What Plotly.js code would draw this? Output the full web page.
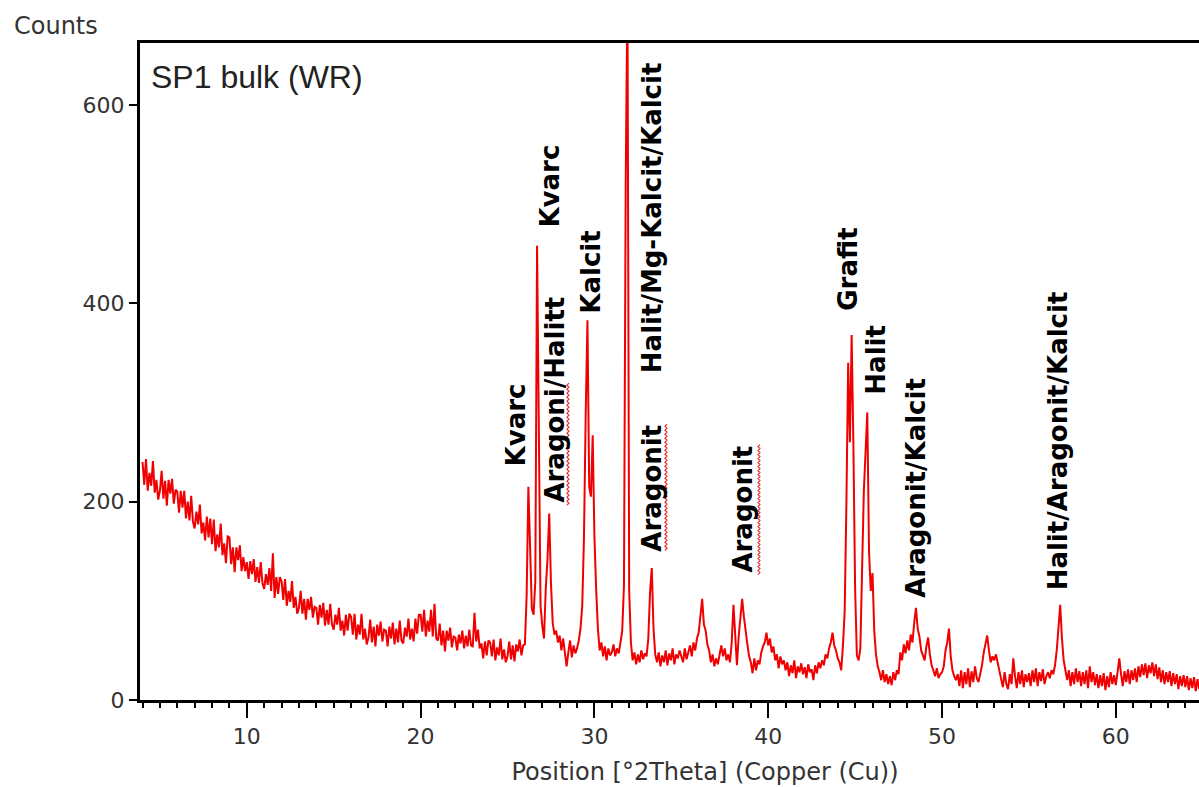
<!DOCTYPE html>
<html>
<head>
<meta charset="utf-8">
<script src="https://cdn.plot.ly/plotly-3.0.1.min.js"></script>
<style>
  html, body { margin: 0; padding: 0; overflow: hidden; background: #fff; }
</style>
</head>
<body>
<div id="plot-xrd"></div>
<script>
/* XRD pattern for SP1 bulk (WR), Cu radiation, with phase labels. */

// Scan runs 4.0 -> 65.0 °2Theta in 0.1° steps; counts.
const SCAN_START = 4.0;
const SCAN_STEP = 0.1;
const COUNTS = [
  240, 217, 243, 211, 229, 216, 241, 209, 222, 202,   // 4
  211, 231, 203, 221, 196, 222, 208, 223, 198, 212,   // 5
  210, 189, 211, 194, 211, 183, 200, 181, 206, 180,   // 6
  173, 190, 177, 197, 168, 179, 161, 185, 164, 183,   // 7
  157, 182, 150, 167, 154, 178, 146, 158, 138, 165,   // 8
  164, 137, 154, 129, 154, 141, 156, 130, 144, 130,   // 9
  139, 122, 140, 127, 142, 119, 134, 118, 139, 118,   // 10
  112, 127, 116, 133, 110, 148, 103, 124, 107, 124,   // 11
  120, 101, 122, 95, 110, 99, 120, 93, 104, 87,       // 12
  93, 110, 87, 102, 81, 102, 91, 104, 83, 94,         // 13
  93, 76, 96, 83, 98, 75, 91, 76, 97, 76,             // 14
  71, 86, 76, 93, 70, 80, 65, 86, 70, 87,             // 15
  84, 66, 87, 61, 76, 66, 87, 61, 72, 56,             // 16
  63, 81, 58, 74, 54, 76, 65, 79, 59, 71,             // 17
  70, 54, 74, 62, 78, 56, 72, 58, 80, 60,             // 18
  57, 73, 64, 82, 61, 72, 59, 82, 67, 86,             // 19
  86, 69, 91, 64, 80, 69, 91, 64, 97, 62,             // 20
  60, 77, 55, 70, 49, 70, 60, 73, 53, 64,             // 21
  63, 50, 66, 57, 70, 52, 65, 54, 71, 55,             // 22
  54, 88, 59, 71, 52, 57, 42, 59, 45, 60,             // 23
  58, 44, 61, 40, 53, 45, 62, 41, 51, 38,             // 24
  44, 59, 41, 55, 39, 56, 49, 61, 45, 55,             // 25
  56, 105, 215, 150, 92, 86, 120, 458, 255, 95,       // 26
  75, 62, 112, 142, 188, 118, 78, 66, 70, 58,         // 27
  65, 50, 62, 47, 34, 48, 60, 43, 55, 47,             // 28
  52, 60, 72, 95, 165, 290, 383, 215, 205, 267,       // 29
  165, 112, 72, 50, 58, 44, 54, 40, 52, 45,           // 30
  48, 56, 44, 52, 47, 58, 70, 115, 520, 720,          // 31
  110, 58, 40, 48, 36, 46, 38, 50, 41, 47,            // 32
  44, 62, 108, 133, 72, 46, 38, 48, 34, 45,           // 33
  38, 50, 35, 47, 40, 52, 36, 46, 42, 50,             // 34
  45, 38, 52, 41, 48, 55, 44, 58, 50, 62,             // 35
  68, 84, 102, 76, 70, 56, 50, 38, 46, 34,            // 36
  42, 36, 48, 55, 44, 52, 40, 46, 38, 58,             // 37
  96, 60, 35, 64, 88, 102, 84, 68, 56, 44,            // 38
  38, 27, 42, 30, 40, 36, 48, 54, 58, 68,             // 39
  55, 62, 48, 54, 40, 46, 32, 44, 36, 40,             // 40
  30, 38, 24, 35, 27, 40, 22, 34, 28, 37,             // 41
  26, 33, 22, 36, 28, 31, 20, 35, 27, 38,             // 42
  32, 40, 35, 46, 42, 52, 58, 68, 55, 50,             // 43
  42, 38, 30, 55, 90, 200, 340, 260, 368, 257,        // 44
  112, 45, 40, 52, 130, 210, 250, 290, 150, 110,      // 45
  128, 70, 46, 34, 28, 20, 30, 18, 26, 16,            // 46
  24, 15, 28, 20, 30, 26, 48, 40, 56, 47,             // 47
  60, 50, 66, 58, 78, 93, 72, 64, 50, 45,             // 48
  40, 54, 63, 46, 35, 30, 24, 32, 22, 26,             // 49
  28, 34, 50, 58, 72, 44, 30, 24, 20, 26,             // 50
  14, 30, 12, 28, 16, 32, 13, 29, 18, 34,             // 51
  22, 18, 26, 35, 48, 58, 65, 50, 38, 44,             // 52
  40, 46, 38, 28, 20, 13, 28, 16, 11, 26,             // 53
  16, 42, 24, 12, 28, 16, 30, 13, 26, 18,             // 54
  27, 14, 30, 18, 32, 14, 28, 19, 31, 16,             // 55
  24, 28, 22, 30, 26, 35, 50, 78, 96, 62,             // 56
  40, 30, 20, 30, 14, 28, 16, 32, 18, 29,             // 57
  14, 28, 16, 30, 12, 34, 18, 28, 15, 26,             // 58
  12, 25, 14, 27, 10, 24, 13, 28, 16, 25,             // 59
  15, 28, 42, 26, 14, 29, 18, 31, 16, 30,             // 60
  20, 32, 18, 34, 23, 36, 25, 37, 22, 35,             // 61
  27, 38, 24, 36, 21, 33, 18, 30, 16, 28,             // 62
  18, 29, 14, 27, 16, 26, 11, 24, 14, 25,             // 63
  13, 24, 10, 22, 12, 23, 9, 21, 11, 20,              // 64
  14,                                                 // 65
];

const X_TICKS = [10, 20, 30, 40, 50, 60];
const Y_TICKS = [0, 200, 400, 600];

const PHASE_LABELS = [
  "Kvarc", "Kvarc", "Aragoni/Halitt", "Kalcit", "Halit/Mg-Kalcit/Kalcit",
  "Aragonit", "Aragonit", "Grafit", "Halit", "Aragonit/Kalcit", "Halit/Aragonit/Kalcit",
];

const SAMPLE_NAME = "SP1 bulk (WR)";

// Where each label sits: text centre in °2Theta, text foot in counts.
const LABEL_SPOTS = [
  [25.49, 233], [27.45, 474], [27.73, 197], [29.80, 388], [33.31, 328],
  [33.31, 148], [38.55, 126], [44.59, 390], [46.15, 306], [48.50, 101], [56.67, 109],
];

// Word's red spell-check squiggles beside the misspelled labels: [x, y mid, length px].
const SQUIGGLES = [[28.42, 258, 122], [34.06, 215, 127], [39.41, 192, 130]];

const FONT = "DejaVu Sans, Verdana, sans-serif";

function phaseLabel(text, spot) {
  return {
    text, x: spot[0], y: spot[1], xref: "x", yref: "y",
    textangle: -90, xanchor: "center", yanchor: "bottom", showarrow: false,
    font: { family: FONT, size: 26, color: "#000", weight: "bold" },
  };
}

function squiggle(spec) {
  const [x, y, len] = spec;
  let d = `M0,${-len / 2}`;
  let side = 1;
  for (let t = -len / 2 + 2; t <= len / 2; t += 2) {
    d += ` L${side * 2},${t}`;
    side = 1 - side;
  }
  return {
    type: "path", xref: "x", yref: "y", xsizemode: "pixel", ysizemode: "pixel",
    xanchor: x, yanchor: y, path: d, line: { color: "#e03030", width: 1.2 },
  };
}

const annotations = PHASE_LABELS.map((t, i) => phaseLabel(t, LABEL_SPOTS[i]));
annotations.push({
  text: SAMPLE_NAME, xref: "paper", yref: "paper", x: 0.008, y: 0.948,
  xanchor: "left", yanchor: "middle", showarrow: false,
  font: { family: "Liberation Sans, Arial, sans-serif", size: 32, color: "#222" },
});
annotations.push({
  text: "Counts", xref: "paper", yref: "paper", x: -0.113, y: 1.026,
  xanchor: "left", yanchor: "middle", showarrow: false,
  font: { family: FONT, size: 24, color: "#333" },
});

// Plot is wider than the window: the right end is cut off as in the source image.
const layout = {
  width: 1270,
  height: 787,
  margin: { l: 140, r: 0, t: 43, b: 87, pad: 0 },
  paper_bgcolor: "#fff",
  plot_bgcolor: "#fff",
  showlegend: false,
  font: { family: FONT, size: 22, color: "#333" },
  xaxis: {
    range: [3.855, 68.87],
    tickvals: X_TICKS,
    ticks: "outside", ticklen: 15, tickwidth: 2, tickcolor: "#000",
    minor: { dtick: 1, tick0: 0, ticks: "outside", ticklen: 5, tickwidth: 2, tickcolor: "#000" },
    showline: true, linewidth: 3, linecolor: "#000", mirror: true,
    showgrid: false, zeroline: false,
    tickfont: { family: FONT, size: 22, color: "#333" },
    title: { text: "Position [°2Theta] (Copper (Cu))", font: { family: FONT, size: 24, color: "#333" }, standoff: 15 },
  },
  yaxis: {
    range: [0, 662.5],
    tickvals: Y_TICKS,
    ticks: "outside", ticklen: 8, tickwidth: 2, tickcolor: "#000",
    showline: true, linewidth: 3, linecolor: "#000", mirror: true,
    showgrid: false, zeroline: false,
    tickfont: { family: FONT, size: 22, color: "#333" },
  },
  annotations,
  shapes: SQUIGGLES.map(squiggle),
};

Plotly.newPlot("plot-xrd", [{
  y: COUNTS,
  x0: SCAN_START,
  dx: SCAN_STEP,
  type: "scatter",
  mode: "lines",
  line: { color: "#f00000", width: 2 },
  hoverinfo: "skip",
}], layout, { displayModeBar: false, staticPlot: true });
</script>
</body>
</html>
